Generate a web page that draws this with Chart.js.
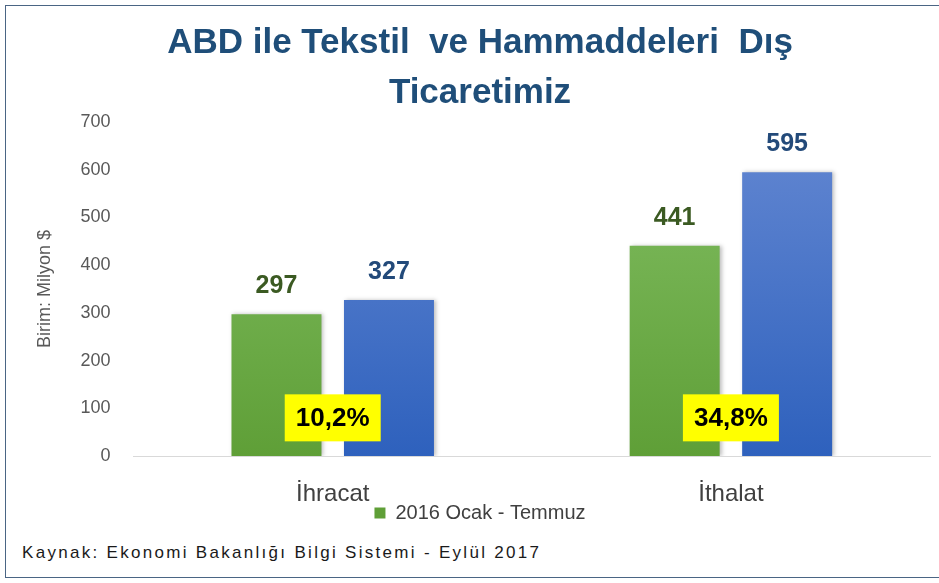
<!DOCTYPE html>
<html><head><meta charset="utf-8">
<script src="https://cdn.jsdelivr.net/npm/chart.js@4.4.1/dist/chart.umd.min.js"></script>
<style>
html,body{margin:0;padding:0;background:#fff;width:939px;height:583px;overflow:hidden;}
#frame{position:absolute;left:5px;top:5px;width:945px;height:573px;border:1.5px solid #4A6584;box-sizing:border-box;}
#wrap{position:absolute;left:30px;top:8px;width:909px;height:525px;}
#src{position:absolute;left:22px;top:543px;font-family:"Liberation Sans",sans-serif;font-size:17px;letter-spacing:2.3px;color:#1a1a1a;white-space:nowrap;}
</style></head>
<body>
<div id="frame"></div>
<div id="wrap"><canvas id="c"></canvas></div>
<div id="src">Kaynak: Ekonomi Bakanlığı Bilgi Sistemi - Eylül 2017</div>
<script>
const categories = ["İhracat", "İthalat"];
const series2016 = [297, 441];
const series2017 = [327, 595];
const seriesNames = ["2016 Ocak - Temmuz", "2017 Ocak - Temmuz"];
const changeLabels = ["10,2%", "34,8%"];
const yTicks = [0, 100, 200, 300, 400, 500, 600, 700];

const FONT = '"Liberation Sans",sans-serif';

function grad(ctx, top, bottom){
  const chart = ctx.chart;
  const a = chart.chartArea;
  if(!a) return top;
  const g = chart.ctx.createLinearGradient(0, a.top + 50, 0, a.bottom);
  g.addColorStop(0, top);
  g.addColorStop(1, bottom);
  return g;
}

const labelPlugin = {
  id: 'labels',
  afterDatasetsDraw(chart){
    const ctx = chart.ctx;
    const colors = ['#3B5A22', '#234a7a'];
    ctx.save();
    ctx.textAlign = 'center';
    ctx.textBaseline = 'alphabetic';
    ctx.font = 'bold 25px ' + FONT;
    chart.data.datasets.forEach((ds, di) => {
      const meta = chart.getDatasetMeta(di);
      meta.data.forEach((bar, i) => {
        ctx.fillStyle = colors[di];
        ctx.fillText(String(ds.data[i]), bar.x, bar.y - 21);
      });
    });
    const xs = chart.scales.x, ys = chart.scales.y;
    changeLabels.forEach((t, i) => {
      const cx = xs.getPixelForValue(i);
      const cy = ys.getPixelForValue(80);
      const w = 96, h = 47;
      ctx.fillStyle = '#FFFF00';
      ctx.fillRect(cx - w/2, cy - h/2, w, h);
      ctx.fillStyle = '#000';
      ctx.font = 'bold 26px ' + FONT;
      ctx.textBaseline = 'middle';
      ctx.fillText(t, cx, cy + 1);
    });
    ctx.restore();
  }
};

const shadowPlugin = {
  id: 'shadow',
  beforeDatasetsDraw(chart){
    chart.ctx.save();
    chart.ctx.shadowColor = 'rgba(0,0,0,0.25)';
    chart.ctx.shadowBlur = 4;
    chart.ctx.shadowOffsetX = 2;
    chart.ctx.shadowOffsetY = 0;
  },
  afterDatasetsDraw(chart){
    chart.ctx.restore();
  }
};

new Chart(document.getElementById('c'), {
  type: 'bar',
  data: {
    labels: categories,
    datasets: [
      { label: seriesNames[0], data: series2016,
        backgroundColor: c => grad(c, '#7DBA5D', '#5F9F37') },
      { label: seriesNames[1], data: series2017,
        backgroundColor: c => grad(c, '#5C82CF', '#2E61BD') }
    ]
  },
  options: {
    responsive: true,
    maintainAspectRatio: false,
    animation: false,
    barPercentage: 0.8,
    categoryPercentage: 0.565,
    layout: { padding: { left: 0, right: 9, top: 0, bottom: 0 } },
    plugins: {
      title: {
        display: true,
        text: ['ABD ile Tekstil  ve Hammaddeleri  Dış', 'Ticaretimiz'],
        color: '#1F4E79',
        font: { family: FONT, size: 35, weight: 'bold', lineHeight: 1.43 },
        padding: { top: 10, bottom: 4 }
      },
      legend: {
        display: true,
        position: 'bottom',
        labels: {
          filter: (item) => item.datasetIndex === 0,
          boxWidth: 11, boxHeight: 11,
          color: '#404040',
          font: { family: FONT, size: 20 },
          padding: 2
        }
      },
      tooltip: { enabled: false }
    },
    scales: {
      x: {
        grid: { display: false, drawTicks: false },
        border: { display: true, color: '#D9D9D9', width: 1 },
        ticks: { color: '#404040', font: { family: FONT, size: 24 }, padding: 24 },
        afterFit: (scale) => { scale.height = 45; }
      },
      y: {
        min: 0, max: 700,
        afterBuildTicks: (axis) => { axis.ticks = yTicks.map(v => ({ value: v })); },
        grid: { display: false, drawTicks: false },
        border: { display: false },
        ticks: { color: '#595959', font: { family: FONT, size: 18 }, padding: 23 },
        title: { display: true, text: 'Birim: Milyon $', color: '#595959',
                 font: { family: FONT, size: 18 }, padding: { bottom: 2 } }
      }
    }
  },
  plugins: [shadowPlugin, labelPlugin]
});
</script>
</body></html>
